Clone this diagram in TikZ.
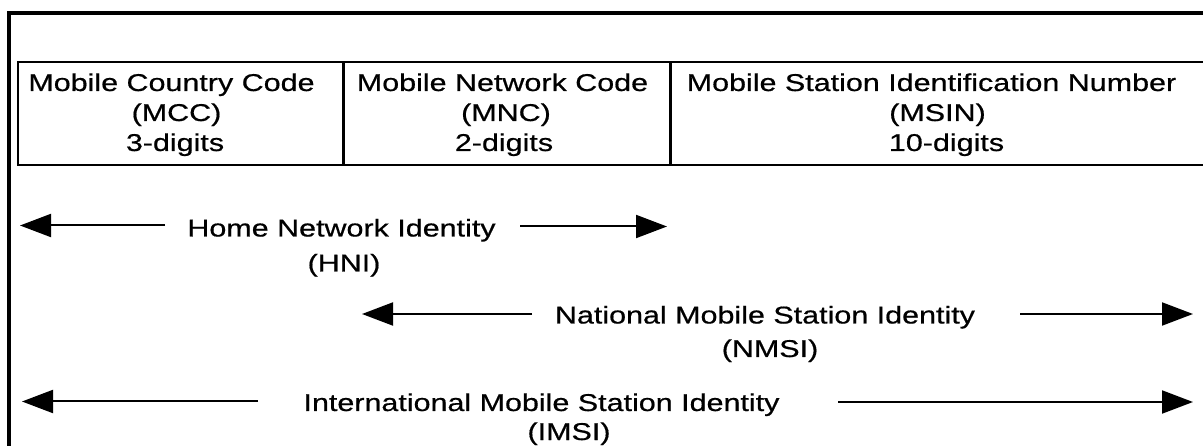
\documentclass[tikz,border=0pt]{standalone}
\usepackage{fontspec}
\setmainfont{Liberation Sans}[FakeStretch=1.254,FakeBold=0.6]
\usetikzlibrary{arrows.meta}
\begin{document}
\begin{tikzpicture}[x=1pt,y=-1pt,
  lbl/.style={font=\fontsize{24.3}{30}\selectfont, inner sep=0pt, anchor=base},
  frame/.style={line width=3.5pt},
  cellline/.style={line width=2pt},
  divider/.style={line width=3pt},
  arr/.style={line width=2pt, -{Triangle[length=31pt,width=23pt]}}]
\useasboundingbox (0,0) rectangle (1203,446);
% outer frame (only top and left edges visible)
\draw[frame] (9,446) -- (9,13) -- (1203,13);
% table
\draw[cellline] (1203,62) -- (18,62) -- (18,165) -- (1203,165);
\draw[divider] (343,62) -- (343,165);
\draw[divider] (670,62) -- (670,165);
% cell texts
\node[lbl] (mcc1) at (171.5,91) {Mobile Country Code};
\node[lbl] (mcc2) at (176.5,121) {(MCC)};
\node[lbl] (mcc3) at (175,151) {3-digits};
\node[lbl] (mnc1) at (502.5,91) {Mobile Network Code};
\node[lbl] (mnc2) at (506,121) {(MNC)};
\node[lbl] (mnc3) at (504,151) {2-digits};
\node[lbl] (msin1) at (931.5,91) {Mobile Station Identification Number};
\node[lbl] (msin2) at (937.5,121) {(MSIN)};
\node[lbl] (msin3) at (946.5,151) {10-digits};
% identity labels
\node[lbl] (hni1) at (341.5,236.5) {Home Network Identity};
\node[lbl] (hni2) at (344,271.5) {(HNI)};
\node[lbl] (nmsi1) at (765,323.5) {National Mobile Station Identity};
\node[lbl] (nmsi2) at (770,357) {(NMSI)};
\node[lbl] (imsi1) at (541.5,411) {International Mobile Station Identity};
\node[lbl] (imsi2) at (569,440) {(IMSI)};
% arrow coordinates
\coordinate (hniLs) at (165,225.5);
\coordinate (hniLt) at (20,225.5);
\coordinate (hniRs) at (520,226.5);
\coordinate (hniRt) at (667,226.5);
\coordinate (nmsiLs) at (532,314);
\coordinate (nmsiLt) at (362,314);
\coordinate (nmsiRs) at (1020,314);
\coordinate (nmsiRt) at (1193,314);
\coordinate (imsiLs) at (258,401.5);
\coordinate (imsiLt) at (22,401.5);
\coordinate (imsiRs) at (838,402);
\coordinate (imsiRt) at (1193,402);
\draw[arr] (hniLs) -- (hniLt);
\draw[arr] (hniRs) -- (hniRt);
\draw[arr] (nmsiLs) -- (nmsiLt);
\draw[arr] (nmsiRs) -- (nmsiRt);
\draw[arr] (imsiLs) -- (imsiLt);
\draw[arr] (imsiRs) -- (imsiRt);
\end{tikzpicture}
\end{document}
